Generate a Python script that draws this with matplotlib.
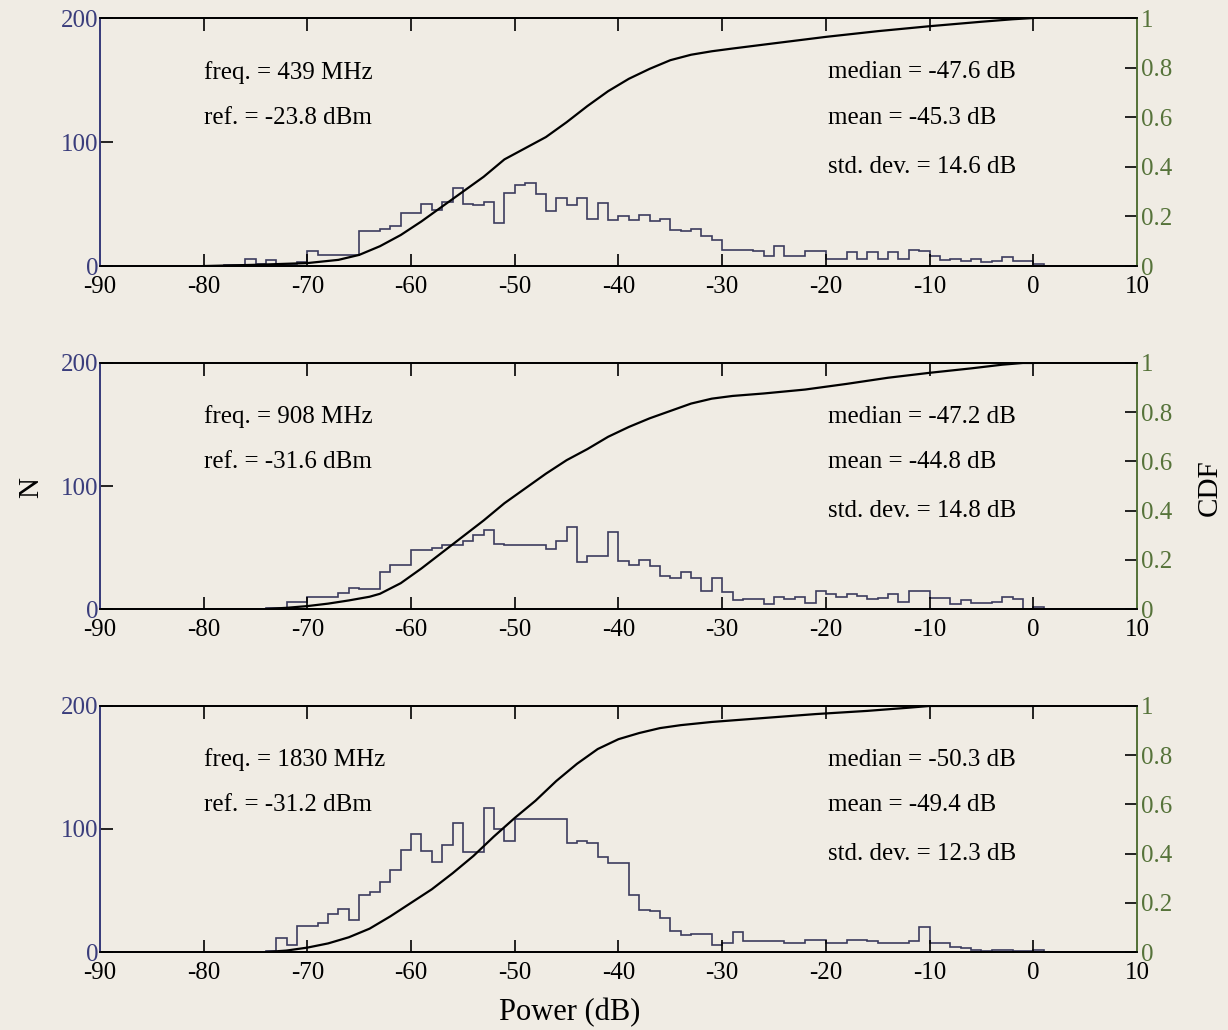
import matplotlib.pyplot as plt
import numpy as np

plt.rcParams['font.family'] = ['Liberation Serif', 'DejaVu Serif']
plt.rcParams['axes.unicode_minus'] = False

BG = '#f0ece4'
NAVY = '#3a3d7c'
GREEN = '#56733a'
HIST = '#3c3c5e'

# histogram counts, 1 dB bins, first bin start given by *_start
hist1_start = -78
hist1 = [1, 1, 6, 2, 5, 2, 2, 3, 12, 9, 9, 9, 9, 28, 28, 30, 32, 43, 43, 50,
         45, 52, 63, 50, 49, 52, 35, 59, 65, 67, 58, 44, 55, 49, 55, 38, 51, 37,
         40, 37, 41, 36, 38, 29, 28, 30, 24, 21, 13, 13, 13, 12, 8, 16, 8, 8,
         12, 12, 6, 6, 11, 6, 11, 6, 11, 6, 13, 12, 8, 5, 6, 4, 6, 3, 4, 7, 4, 4, 2]

hist2_start = -74
hist2 = [1, 1, 6, 6, 10, 10, 10, 13, 17, 16, 16, 30, 36, 36, 48, 48, 50, 52,
         52, 55, 60, 64, 53, 52, 52, 52, 52, 49, 55, 67, 38, 43, 43, 63, 39, 36,
         40, 35, 27, 25, 30, 25, 15, 25, 14, 7, 8, 8, 4, 10, 8, 10, 5, 15, 12, 10,
         12, 11, 8, 9, 12, 6, 15, 15, 9, 9, 4, 7, 5, 5, 6, 10, 8, 0, 2]

hist3_start = -74
hist3 = [1, 11, 6, 21, 21, 24, 31, 35, 26, 46, 49, 57, 67, 83, 96, 82, 73, 87,
         105, 81, 81, 117, 100, 90, 108, 108, 108, 108, 108, 89, 90, 89, 77, 72,
         72, 46, 34, 33, 28, 17, 14, 15, 15, 6, 7, 16, 9, 9, 9, 9, 7, 7, 10, 10,
         7, 7, 10, 10, 9, 7, 7, 7, 9, 20, 7, 7, 4, 3, 2, 1, 2, 2, 1, 1, 2]

# cumulative distribution
cdf1_x = [-80, -75, -70, -67, -65, -63, -61, -59, -57, -55, -53, -51, -49, -47,
          -45, -43, -41, -39, -37, -35, -33, -31, -29, -25, -20, -15, -10, -5, -2, 0]
cdf1_y = [0.0, 0.005, 0.012, 0.025, 0.045, 0.08, 0.125, 0.18, 0.24, 0.30, 0.36,
          0.43, 0.475, 0.52, 0.58, 0.645, 0.705, 0.755, 0.795, 0.83, 0.852, 0.866,
          0.877, 0.898, 0.924, 0.947, 0.967, 0.985, 0.995, 1.0]

cdf2_x = [-74, -72, -70, -68, -66, -64, -63, -61, -59, -57, -55, -53, -51, -49,
          -47, -45, -43, -41, -39, -37, -35, -33, -31, -29, -26, -22, -18, -14,
          -10, -6, -3, -1, 0]
cdf2_y = [0.0, 0.005, 0.012, 0.022, 0.035, 0.05, 0.062, 0.105, 0.165, 0.23, 0.295,
          0.36, 0.43, 0.49, 0.55, 0.605, 0.65, 0.70, 0.74, 0.775, 0.805, 0.835, 0.855,
          0.866, 0.876, 0.892, 0.915, 0.94, 0.96, 0.978, 0.993, 1.0, 1.0]

cdf3_x = [-74, -72, -70, -68, -66, -64, -62, -60, -58, -56, -54, -52, -50, -48,
          -46, -44, -42, -40, -38, -36, -34, -31, -26, -21, -16, -12, -10, 0]
cdf3_y = [0.0, 0.006, 0.018, 0.035, 0.06, 0.095, 0.145, 0.20, 0.255, 0.32, 0.39,
          0.47, 0.545, 0.615, 0.695, 0.765, 0.825, 0.865, 0.89, 0.91, 0.922, 0.935,
          0.951, 0.967, 0.98, 0.993, 1.0, 1.0]

left_notes = [('freq. = 439 MHz', 'ref. = -23.8 dBm'),
              ('freq. = 908 MHz', 'ref. = -31.6 dBm'),
              ('freq. = 1830 MHz', 'ref. = -31.2 dBm')]
right_notes = [('median = -47.6 dB', 'mean = -45.3 dB', 'std. dev. = 14.6 dB'),
               ('median = -47.2 dB', 'mean = -44.8 dB', 'std. dev. = 14.8 dB'),
               ('median = -50.3 dB', 'mean = -49.4 dB', 'std. dev. = 12.3 dB')]

hists = [(hist1_start, hist1), (hist2_start, hist2), (hist3_start, hist3)]
cdfs = [(cdf1_x, cdf1_y), (cdf2_x, cdf2_y), (cdf3_x, cdf3_y)]

fig = plt.figure(figsize=(12.28, 10.30), dpi=100, facecolor=BG)
boxes = [(0.0814, 0.7417, 0.8445, 0.2408),
         (0.0814, 0.4087, 0.8445, 0.2389),
         (0.0814, 0.0757, 0.8445, 0.2389)]

for i in range(3):
    ax = fig.add_axes(boxes[i])
    ax.set_facecolor(BG)
    start, counts = hists[i]
    edges = np.arange(start, start + len(counts) + 1)
    ax.stairs(counts, edges, color=HIST, lw=1.2)
    ax.set_xlim(-90, 10)
    ax.set_ylim(0, 200)
    ax.set_xticks(range(-90, 11, 10))
    ax.set_yticks([0, 100, 200])
    ax.tick_params(direction='in', length=9, width=1.2, labelsize=18, pad=7,
                   top=True, right=True)
    ax.tick_params(axis='y', labelcolor=NAVY, pad=1)
    ax.spines['left'].set_color(NAVY)
    ax.spines['right'].set_color(GREEN)
    for s in ax.spines.values():
        s.set_linewidth(1.3)

    ax2 = ax.twinx()
    ax2.plot(cdfs[i][0], cdfs[i][1], color='black', lw=1.6)
    ax2.set_ylim(0, 1)
    ax2.set_yticks([0, 0.2, 0.4, 0.6, 0.8, 1])
    ax2.set_yticklabels(['0', '0.2', '0.4', '0.6', '0.8', '1'])
    ax2.tick_params(direction='in', length=9, width=1.2, labelsize=18, pad=3,
                    labelcolor=GREEN)
    ax2.spines['right'].set_color(GREEN)
    ax2.spines['left'].set_color(NAVY)
    for s in ax2.spines.values():
        s.set_linewidth(1.3)

    ax.text(0.1, 0.782, left_notes[i][0], transform=ax.transAxes, fontsize=18,
            va='center', ha='left')
    ax.text(0.1, 0.597, left_notes[i][1], transform=ax.transAxes, fontsize=18,
            va='center', ha='left')
    for k, yy in enumerate([0.782, 0.597, 0.40]):
        ax.text(0.702, yy, right_notes[i][k], transform=ax.transAxes, fontsize=18,
                va='center', ha='left')

fig.text(0.025, 0.527, 'N', rotation=90, fontsize=21, va='center', ha='center')
fig.text(0.985, 0.527, 'CDF', rotation=90, fontsize=21, va='center', ha='center')
fig.text(0.464, 0.017, 'Power (dB)', fontsize=22, va='center', ha='center')

plt.savefig('out.png', dpi=100, facecolor=BG)
